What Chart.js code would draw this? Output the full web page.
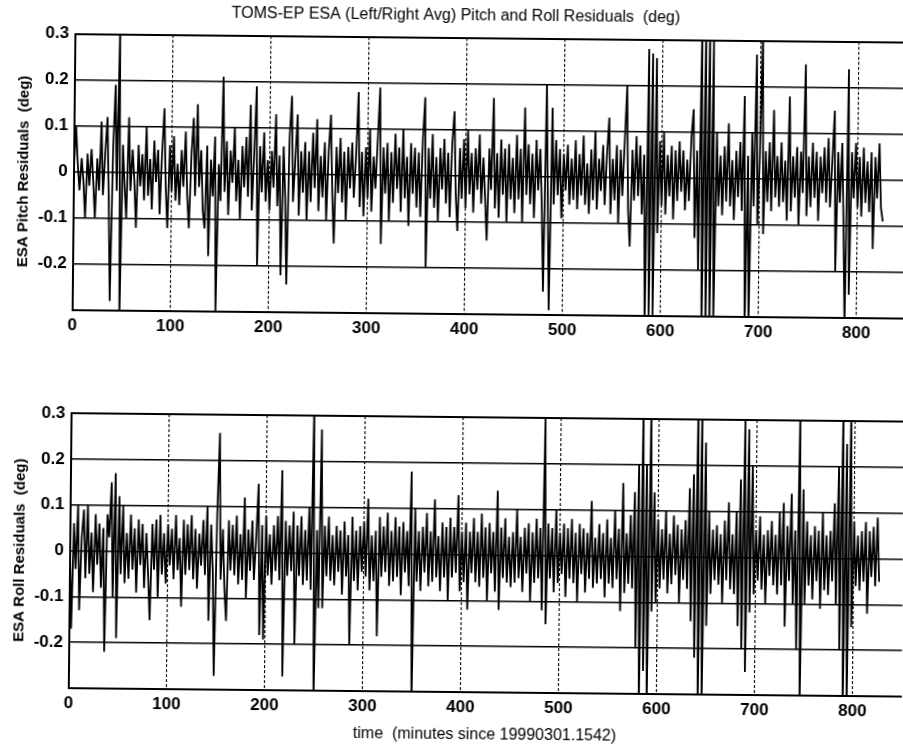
<!DOCTYPE html>
<html>
<head>
<meta charset="utf-8">
<script src="https://cdn.jsdelivr.net/npm/chart.js@4/dist/chart.umd.min.js"></script>
<style>
  html, body { margin: 0; padding: 0; background: #fff; overflow: hidden; width: 903px; height: 749px; }
  #sheet { position: relative; width: 903px; height: 749px; transform: rotate(0.58deg); transform-origin: 451px 374px; }
  #pitchCanvas { position: absolute; left: 0; top: 0; }
  #rollCanvas { position: absolute; left: 0; top: 375px; }
</style>
</head>
<body>
<div id="sheet">
  <canvas id="pitchCanvas" width="933" height="375"></canvas>
  <canvas id="rollCanvas" width="919" height="374"></canvas>
</div>
<script>
// Sampling interval of the residual series (minutes)
const sampleStep = 2;

// Axis ticks
const xTicks = [0, 100, 200, 300, 400, 500, 600, 700, 800];
const yTicks = [-0.3, -0.2, -0.1, 0, 0.1, 0.2, 0.3];

// ESA pitch residuals (deg), one value every 2 minutes (30 minutes per row)
const pitchResiduals = [
  0.0, 0.1, 0.02, -0.04, 0.03, -0.02, -0.1, 0.04, -0.03, 0.05, -0.02, -0.1, 0.03, -0.04, 0.11,
  -0.05, 0.04, 0.12, -0.06, -0.28, 0.05, 0.19, -0.04, 0.32, -0.32, 0.06, -0.03, -0.1, 0.12, -0.04,
  0.05, -0.02, -0.12, 0.06, -0.03, 0.04, -0.06, 0.1, -0.05, 0.03, -0.08, 0.07, -0.02, 0.05, -0.09,
  0.04, 0.14, -0.03, -0.12, 0.06, -0.04, 0.08, -0.06, 0.02, -0.07, 0.05, -0.03, 0.09, -0.05, -0.12,
  0.04, 0.12, -0.05, 0.15, -0.03, 0.05, -0.08, -0.12, 0.06, -0.18, 0.03, -0.05, 0.08, -0.3, 0.02,
  -0.06, 0.21, -0.04, 0.07, -0.09, 0.05, -0.02, 0.1, -0.06, 0.03, -0.1, 0.06, -0.03, 0.08, -0.05,
  0.15, -0.08, 0.04, 0.19, -0.2, 0.06, -0.04, 0.09, -0.06, 0.03, -0.08, 0.05, -0.03, 0.13, -0.07,
  0.04, -0.22, 0.06, -0.05, -0.24, 0.08, 0.17, -0.06, 0.03, 0.13, -0.09, 0.05, -0.04, 0.07, -0.1,
  0.05, -0.06, 0.09, -0.03, 0.12, -0.08, 0.04, -0.05, 0.07, -0.1, 0.05, 0.13, -0.04, -0.15, 0.06,
  -0.04, 0.08, -0.06, 0.05, -0.1, 0.06, -0.03, 0.07, -0.05, 0.04, 0.18, -0.07, 0.05, -0.09, 0.06,
  -0.05, 0.1, -0.08, 0.04, -0.03, 0.08, 0.19, -0.15, 0.06, -0.04, 0.07, -0.1, 0.05, -0.06, 0.09,
  -0.03, 0.06, -0.08, 0.1, -0.05, 0.04, -0.11, 0.07, -0.04, 0.06, -0.07, 0.05, -0.09, 0.08, 0.17,
  -0.2, 0.06, -0.05, 0.09, -0.07, 0.04, -0.1, 0.06, -0.03, 0.08, -0.06, 0.05, -0.09, 0.07, 0.14,
  -0.04, -0.12, 0.06, -0.05, 0.08, -0.07, 0.1, -0.04, 0.05, -0.08, 0.06, -0.03, 0.09, -0.06, 0.04,
  -0.05, -0.14, 0.06, -0.03, 0.17, -0.07, 0.05, -0.09, 0.08, -0.04, 0.06, -0.1, 0.07, -0.05, 0.04,
  -0.08, 0.09, -0.05, 0.06, -0.1, 0.15, -0.04, 0.07, -0.06, 0.05, -0.09, 0.08, -0.03, 0.06, -0.07,
  -0.25, 0.2, -0.05, -0.29, 0.15, -0.06, 0.08, -0.04, 0.06, -0.09, 0.05, -0.03, 0.07, -0.06, 0.04,
  -0.05, 0.08, -0.07, 0.05, -0.04, 0.09, -0.06, 0.03, -0.08, 0.06, -0.05, 0.1, -0.07, 0.04, -0.03,
  0.07, -0.06, 0.05, 0.13, -0.08, 0.04, -0.05, 0.07, -0.1, 0.06, -0.04, 0.08, 0.2, -0.07, -0.15,
  0.06, -0.05, 0.09, -0.04, 0.07, -0.08, 0.05, -0.32, 0.28, -0.3, 0.27, -0.3, 0.26, -0.12, 0.08,
  -0.06, 0.1, -0.08, 0.05, -0.04, 0.07, -0.09, 0.06, -0.05, 0.08, -0.03, 0.06, -0.07, 0.04, -0.05,
  0.09, 0.15, -0.13, 0.06, -0.2, 0.33, -0.33, 0.33, -0.33, 0.33, -0.33, 0.3, -0.32, 0.1, -0.06,
  0.05, -0.08, 0.07, -0.05, 0.12, -0.06, 0.04, -0.09, 0.06, -0.04, 0.08, -0.07, 0.18, -0.32, 0.05,
  -0.32, 0.1, -0.06, 0.27, -0.1, 0.05, 0.32, -0.12, 0.06, -0.05, 0.08, -0.07, 0.15, -0.04, 0.05,
  -0.06, 0.08, -0.05, 0.04, -0.09, 0.18, -0.07, 0.05, -0.04, 0.07, -0.1, 0.06, -0.03, 0.25, -0.08,
  0.05, -0.06, 0.08, -0.04, 0.06, -0.09, 0.05, -0.03, 0.07, -0.05, 0.09, -0.06, 0.04, 0.15, -0.2,
  0.06, -0.05, 0.08, -0.1, -0.32, 0.24, -0.25, 0.06, -0.04, 0.08, -0.06, 0.05, -0.08, 0.07, -0.05,
  0.04, -0.07, 0.06, -0.15, 0.05, -0.04, 0.08, -0.06, -0.09
];

// ESA roll residuals (deg), one value every 2 minutes (30 minutes per row)
const rollResiduals = [
  0.02, -0.17, 0.06, -0.04, 0.1, -0.13, 0.03, 0.09, -0.06, 0.1, -0.05, 0.04, -0.09, 0.08, -0.03,
  0.06, -0.08, 0.05, -0.22, 0.08, 0.03, 0.15, -0.1, 0.17, -0.19, 0.12, -0.05, 0.1, -0.07, 0.04,
  -0.06, 0.08, -0.04, 0.05, -0.09, 0.07, -0.03, 0.06, -0.08, 0.04, -0.05, -0.15, 0.06, -0.04, 0.07,
  -0.1, 0.08, -0.05, 0.04, -0.07, 0.06, -0.03, 0.05, -0.06, 0.08, -0.04, 0.03, -0.12, 0.07, -0.05,
  0.06, -0.04, 0.08, -0.06, 0.05, -0.08, 0.04, -0.03, 0.07, -0.05, 0.1, -0.15, 0.06, -0.04, -0.27,
  0.08, 0.26, -0.06, 0.05, -0.08, -0.15, 0.07, -0.04, 0.06, -0.05, 0.08, -0.07, 0.04, -0.06, 0.12,
  -0.1, 0.05, -0.04, 0.07, -0.06, 0.03, 0.15, -0.18, 0.06, -0.19, 0.08, -0.05, 0.04, -0.07, 0.06,
  -0.04, 0.08, -0.06, 0.18, -0.27, 0.07, -0.05, 0.06, -0.04, 0.09, -0.2, 0.06, -0.05, 0.08, -0.07,
  0.05, -0.06, 0.1, -0.08, 0.33, -0.33, 0.05, -0.12, 0.27, -0.12, 0.06, -0.05, 0.08, -0.06, 0.04,
  -0.07, 0.06, -0.04, 0.05, -0.09, 0.07, -0.05, 0.04, -0.2, 0.08, -0.06, 0.05, -0.08, 0.06, -0.04,
  0.07, -0.05, 0.12, -0.08, 0.04, -0.06, 0.05, -0.18, 0.08, -0.05, 0.06, -0.04, 0.09, -0.07, 0.05,
  -0.06, 0.08, -0.05, 0.06, -0.09, 0.07, -0.04, 0.05, -0.07, 0.18, -0.33, 0.1, -0.06, 0.05, -0.08,
  0.06, -0.04, 0.09, -0.07, 0.05, -0.06, 0.12, -0.05, 0.04, -0.08, 0.07, -0.05, 0.06, -0.1, 0.08,
  -0.05, 0.06, -0.04, 0.13, -0.08, 0.05, -0.06, 0.07, -0.12, 0.05, -0.04, 0.08, -0.06, 0.05, -0.07,
  0.09, -0.05, 0.06, -0.1, 0.07, -0.04, 0.05, -0.08, 0.14, -0.12, 0.06, -0.05, 0.08, -0.06, 0.04,
  -0.07, 0.05, -0.06, 0.1, -0.05, 0.04, -0.08, 0.06, -0.04, 0.07, -0.1, 0.05, -0.06, 0.08, -0.05,
  0.06, -0.12, 0.3, -0.15, 0.07, -0.05, 0.06, -0.08, 0.1, -0.06, 0.05, -0.04, 0.07, -0.09, 0.06,
  -0.05, 0.08, -0.06, 0.05, -0.1, 0.07, -0.04, 0.06, -0.08, 0.05, -0.05, 0.12, -0.07, 0.04, -0.06,
  0.07, -0.05, 0.05, -0.09, 0.08, -0.06, 0.04, -0.07, 0.1, -0.05, 0.06, -0.12, 0.16, -0.08, 0.05,
  -0.06, 0.09, -0.07, 0.14, -0.2, 0.2, -0.33, 0.33, -0.25, 0.2, -0.33, 0.33, -0.12, 0.14, -0.1,
  0.08, -0.07, 0.06, -0.05, 0.1, -0.08, 0.05, -0.06, 0.09, -0.04, 0.07, -0.1, 0.06, -0.05, 0.08,
  -0.07, 0.15, -0.14, 0.18, -0.22, 0.33, -0.33, 0.33, -0.33, 0.25, -0.15, 0.1, -0.08, 0.06, -0.05,
  0.07, -0.06, 0.05, -0.1, 0.08, -0.05, 0.12, -0.07, 0.05, -0.08, 0.1, -0.15, 0.17, -0.2, 0.3,
  -0.25, 0.28, -0.12, 0.2, -0.08, 0.06, -0.05, 0.09, -0.07, 0.05, -0.1, 0.06, -0.04, 0.08, -0.06,
  0.05, -0.08, 0.1, -0.06, 0.12, -0.15, 0.07, -0.05, 0.14, -0.1, 0.06, -0.2, 0.33, -0.33, 0.15,
  -0.1, 0.08, -0.06, 0.05, -0.09, 0.07, -0.05, 0.06, -0.11, 0.1, -0.07, 0.05, -0.08, 0.06, -0.05,
  0.12, -0.1, 0.2, -0.2, 0.33, -0.33, 0.25, -0.33, 0.33, -0.15, 0.08, -0.06, 0.05, -0.07, 0.06,
  -0.05, 0.08, -0.12, 0.06, -0.04, 0.07, -0.06, 0.09, -0.05
];

// Text
const chartTitle = 'TOMS-EP ESA (Left/Right Avg) Pitch and Roll Residuals  (deg)';
const pitchLabel = 'ESA Pitch Residuals  (deg)';
const rollLabel = 'ESA Roll Residuals  (deg)';
const timeLabel = 'time  (minutes since 19990301.1542)';

const FONT = "'Liberation Sans', Arial, Helvetica, sans-serif";
const toPoints = vals => vals.map((v, i) => ({ x: i * sampleStep, y: v }));

function panel(canvas, values, yTitle, extra) {
  return new Chart(canvas, {
    type: 'line',
    data: {
      datasets: [{
        data: toPoints(values),
        borderColor: '#000',
        borderWidth: 1.8,
        pointRadius: 0,
        tension: 0,
        fill: false
      }]
    },
    options: {
      responsive: false,
      animation: false,
      events: [],
      layout: { padding: extra.padding },
      plugins: {
        legend: { display: false },
        tooltip: { enabled: false },
        title: extra.title || { display: false }
      },
      scales: {
        x: {
          type: 'linear',
          min: 0,
          max: 850,
          afterBuildTicks: s => { s.ticks = xTicks.map(v => ({ value: v })); },
          afterFit: s => { s.height = extra.xHeight; },
          ticks: {
            color: '#000',
            padding: 5,
            maxRotation: 0,
            autoSkip: false,
            font: { family: FONT, size: 17, weight: 'bold' },
            callback: v => String(v)
          },
          // dotted vertical grid lines at the time ticks; the axis line stays solid
          grid: { color: '#000', lineWidth: 1.1, drawTicks: false },
          border: { display: true, color: '#000', width: 2, dash: [3, 2] },
          title: extra.xTitle || { display: false }
        },
        y: {
          type: 'linear',
          min: -0.3,
          max: 0.3,
          afterBuildTicks: s => { s.ticks = yTicks.map(v => ({ value: v })); },
          afterFit: s => { s.width = 71.7; },
          ticks: {
            color: '#000',
            padding: 6,
            font: { family: FONT, size: 17, weight: 'bold' },
            callback: v => (v < -0.29 ? '' : String(Math.round(v * 10) / 10))
          },
          grid: {
            color: '#000',
            lineWidth: c => (c.tick && c.tick.value > 0.29 ? 2 : 1.5),
            drawTicks: false
          },
          border: { display: true, color: '#000', width: 2 },
          title: {
            display: true,
            text: yTitle,
            color: '#000',
            font: { family: FONT, size: 15, weight: 'bold' },
            padding: { top: 13, bottom: 0 }
          }
        }
      }
    }
  });
}

panel(document.getElementById('pitchCanvas'), pitchResiduals, pitchLabel, {
  padding: { left: 0, right: 28.3, top: 0, bottom: 0 },
  xHeight: 61.2,
  title: {
    display: true,
    text: chartTitle,
    color: '#000',
    align: 'center',
    font: { family: FONT, size: 16, weight: 'normal' },
    padding: { top: 6.4, bottom: 12.1 }
  }
});

panel(document.getElementById('rollCanvas'), rollResiduals, rollLabel, {
  padding: { left: 0, right: 14.3, top: 42, bottom: 0 },
  xHeight: 57,
  xTitle: {
    display: true,
    text: timeLabel,
    color: '#000',
    font: { family: FONT, size: 16, weight: 'normal' },
    padding: { top: 0, bottom: 4.7 }
  }
});
</script>
</body>
</html>
